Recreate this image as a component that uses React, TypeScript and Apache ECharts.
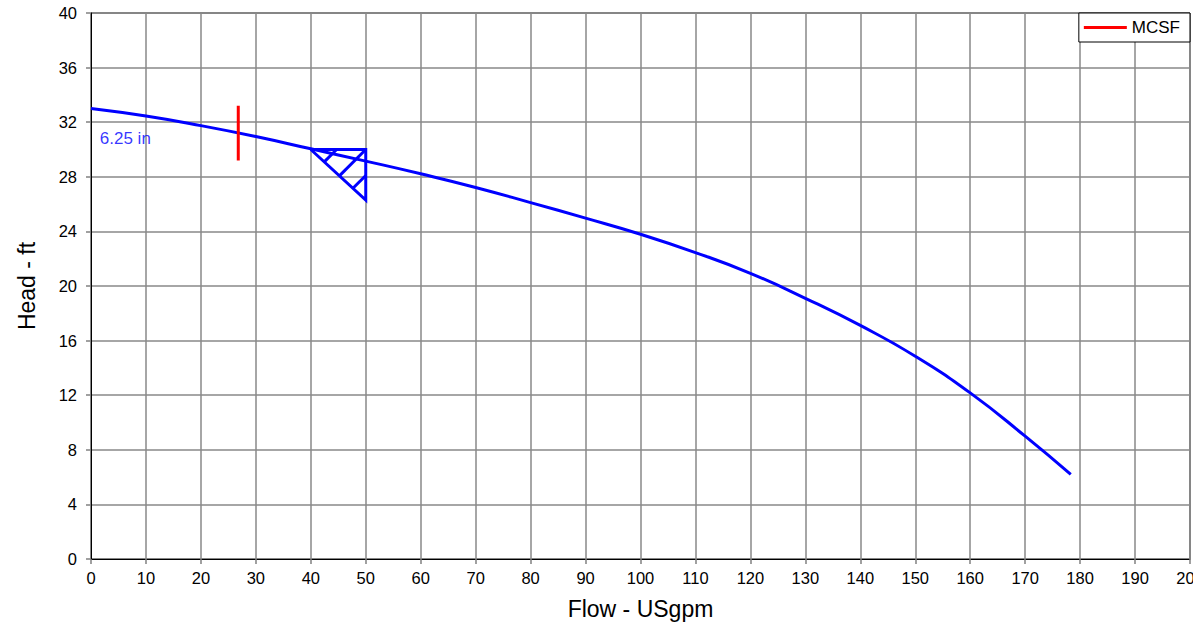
import React, { useEffect, useRef } from "react";
import * as echarts from "echarts";

const flow = [0, 10, 20, 30, 40, 50, 60, 70, 80, 90, 100, 110, 120, 130, 140, 150, 160, 170, 178.3];
const head = [33.0, 32.45, 31.75, 30.95, 30.05, 29.15, 28.22, 27.22, 26.11, 24.97, 23.79, 22.45, 20.93, 19.1, 17.11, 14.86, 12.17, 9.0, 6.2];

const mcsfFlow = [26.8, 26.8];
const mcsfHead = [29.2, 33.2];

const bepTriangleFlow = [40, 50, 50, 40];
const bepTriangleHead = [30, 30, 26.3, 30];

const hatchFlow = [
  [42.45, 44.7],
  [45.2, 50],
  [47.67, 50],
];
const hatchHead = [
  [29.09, 30],
  [28.07, 30],
  [27.16, 28.1],
];

const curveLabel = "6.25 in";
const curveLabelPos = [1.6, 30.8];

const FONT = "'Liberation Sans', Arial, sans-serif";

export default function App() {
  const ref = useRef<HTMLDivElement>(null);
  useEffect(() => {
    if (!ref.current) return;
    const chart = echarts.init(ref.current, null, { renderer: "svg" });
    const blue = "#0000ff";
    const zip = (xs: number[], ys: number[]) => xs.map((x, i) => [x, ys[i]]);
    const series: any[] = [
      {
        name: "curve",
        type: "line",
        data: zip(flow, head),
        smooth: 0.5,
        showSymbol: false,
        lineStyle: { color: blue, width: 3 },
        itemStyle: { color: blue },
        z: 3,
      },
      {
        name: "MCSF",
        type: "line",
        data: zip(mcsfFlow, mcsfHead),
        showSymbol: false,
        lineStyle: { color: "#ff0000", width: 3 },
        itemStyle: { color: "#ff0000" },
        z: 4,
      },
      {
        name: "bep",
        type: "line",
        data: zip(bepTriangleFlow, bepTriangleHead),
        showSymbol: false,
        lineStyle: { color: blue, width: 3, join: "miter" },
        itemStyle: { color: blue },
        z: 3,
      },
      ...hatchFlow.map((xs, i) => ({
        name: "hatch" + i,
        type: "line",
        data: zip(xs, hatchHead[i]),
        showSymbol: false,
        lineStyle: { color: blue, width: 3 },
        itemStyle: { color: blue },
        z: 3,
      })),
      {
        name: "label",
        type: "scatter",
        data: [curveLabelPos],
        symbolSize: 0,
        label: {
          show: true,
          formatter: curveLabel,
          position: "right",
          distance: 0,
          color: blue,
          fontSize: 17,
          fontFamily: FONT,
        },
        z: 5,
      },
    ];
    chart.setOption({
      animation: false,
      backgroundColor: "#ffffff",
      textStyle: { fontFamily: FONT },
      grid: {
        left: 91,
        right: 3,
        top: 13,
        bottom: 64,
        containLabel: false,
        outerBoundsMode: "none",
        show: true,
        borderColor: "#000",
        borderWidth: 1,
        backgroundColor: "#fff",
      },
      legend: {
        data: ["MCSF"],
        right: 3,
        top: 13,
        icon: "rect",
        itemWidth: 43,
        itemHeight: 3,
        itemGap: 5,
        padding: [6, 10, 6, 5],
        backgroundColor: "#fff",
        borderColor: "#000",
        borderWidth: 1,
        borderRadius: 0,
        textStyle: { fontSize: 17, color: "#000", fontFamily: FONT, padding: [0, 0, 0, 0] },
      },
      xAxis: {
        type: "value",
        min: 0,
        max: 200,
        interval: 10,
        name: "Flow - USgpm",
        nameLocation: "middle",
        nameGap: 38,
        nameTextStyle: { fontSize: 23, color: "#000", fontFamily: FONT },
        axisLine: { show: true, onZero: false, lineStyle: { color: "#000", width: 1 } },
        axisTick: { show: true, length: 5, lineStyle: { color: "#808080", width: 1.5 } },
        axisLabel: { color: "#000", fontSize: 16.5, margin: 10, fontFamily: FONT, hideOverlap: false, showMaxLabel: true, showMinLabel: true },
        splitLine: { show: true, lineStyle: { color: "#888888", width: 1.5 } },
      },
      yAxis: {
        type: "value",
        min: 0,
        max: 40,
        interval: 4,
        name: "Head - ft",
        nameLocation: "middle",
        nameGap: 53,
        nameTextStyle: { fontSize: 23, color: "#000", fontFamily: FONT },
        axisLine: { show: true, onZero: false, lineStyle: { color: "#000", width: 1 } },
        axisTick: { show: true, length: 5, lineStyle: { color: "#808080", width: 1.5 } },
        axisLabel: { color: "#000", fontSize: 16.5, margin: 14, fontFamily: FONT },
        splitLine: { show: true, lineStyle: { color: "#888888", width: 1.5 } },
      },
      series,
    });
    return () => chart.dispose();
  }, []);
  return (
    <div
      ref={ref}
      style={{ position: "fixed", left: 0, top: 0, width: 1193, height: 623, background: "#fff" }}
    />
  );
}
